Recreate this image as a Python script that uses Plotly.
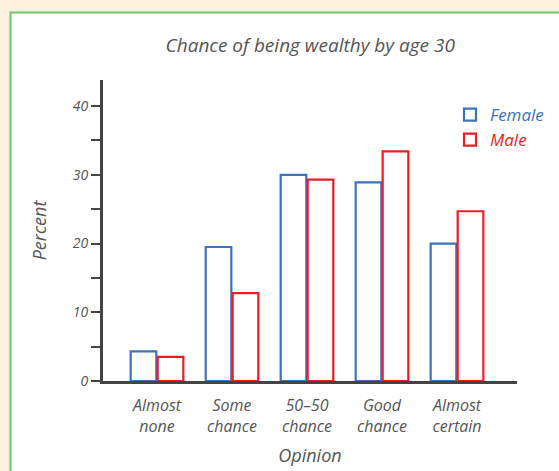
import plotly.graph_objects as go

categories = ["Almost<br>none", "Some<br>chance", "50–50<br>chance", "Good<br>chance", "Almost<br>certain"]
female = [4.3, 19.5, 30.0, 28.9, 20.0]
male = [3.5, 12.8, 29.3, 33.4, 24.7]
y_ticks = [0, 10, 20, 30, 40]
minor_ticks = [5, 15, 25, 35]

BLUE = "#3d72bd"
RED = "#ee1c25"
INK = "#555555"
CREAM = "#fdf2de"
FONT = "Open Sans"

x = list(range(len(categories)))

fig = go.Figure()
fig.add_trace(go.Bar(
    x=x, y=female, name="<i><span style='color:%s'>Female</span></i>" % BLUE,
    marker=dict(color="rgba(255,255,255,0)", line=dict(color=BLUE, width=2.2)),
))
fig.add_trace(go.Bar(
    x=x, y=male, name="<i><span style='color:%s'>Male</span></i>" % RED,
    marker=dict(color="rgba(255,255,255,0)", line=dict(color=RED, width=2.2)),
))

W, H = 559, 471
L, R, T, B = 103, 42, 80, 90
pw, ph = W - L - R, H - T - B

def px_to_paper_x(px):
    return (px - L) / pw

def px_to_paper_y(py):
    return (H - B - py) / ph

fig.add_shape(type="rect", xref="paper", yref="paper",
              x0=px_to_paper_x(10.5), x1=px_to_paper_x(600),
              y0=px_to_paper_y(520), y1=px_to_paper_y(12.5),
              fillcolor="white", line=dict(color="#72c46e", width=2), layer="below")

fig.update_layout(
    width=W, height=H,
    margin=dict(l=L, r=R, t=T, b=B, autoexpand=False),
    paper_bgcolor=CREAM,
    plot_bgcolor="white",
    barmode="group", bargap=0.28, bargroupgap=0.05,
    font=dict(family=FONT, color=INK, size=14),
    title=dict(text="<i>Chance of being wealthy by age 30</i>", x=0.555, xanchor="center",
               y=1 - 45 / H, yanchor="middle", font=dict(size=19, color=INK)),
    showlegend=True,
    legend=dict(xref="container", yref="container", x=450 / W, y=1 - 97 / H,
                xanchor="left", yanchor="top",
                bgcolor="rgba(0,0,0,0)", font=dict(size=17), itemwidth=30,
                tracegroupgap=2),
    xaxis=dict(
        range=[-0.72, 4.8], tickmode="array", tickvals=x, ticktext=["<i>%s</i>" % c for c in categories],
        showline=True, linecolor="#444444", linewidth=3, ticks="", showgrid=False,
        zeroline=False, tickfont=dict(size=16, color=INK), automargin=False,
        ticklabelstandoff=8,
        title=dict(text="<i>Opinion</i>", font=dict(size=18, color=INK), standoff=14),
    ),
    yaxis=dict(
        range=[0, 43.8], tickmode="array", tickvals=y_ticks,
        ticktext=["<i>%d</i>" % v for v in y_ticks],
        showline=True, linecolor="#444444", linewidth=3, ticks="outside", ticklen=9,
        tickcolor="#444444", tickwidth=1.5, showgrid=False, zeroline=False,
        tickfont=dict(size=14, color=INK), automargin=False,
        minor=dict(tickvals=minor_ticks, ticks="outside", ticklen=9, tickcolor="#444444", tickwidth=1.5),
        title=dict(text="<i>Percent</i>", font=dict(size=18, color=INK), standoff=22),
    ),
)

fig.write_html(
    "out.html",
    config={"displayModeBar": False},
    post_script="document.body.style.margin='0';document.body.style.background='%s';" % CREAM,
)
